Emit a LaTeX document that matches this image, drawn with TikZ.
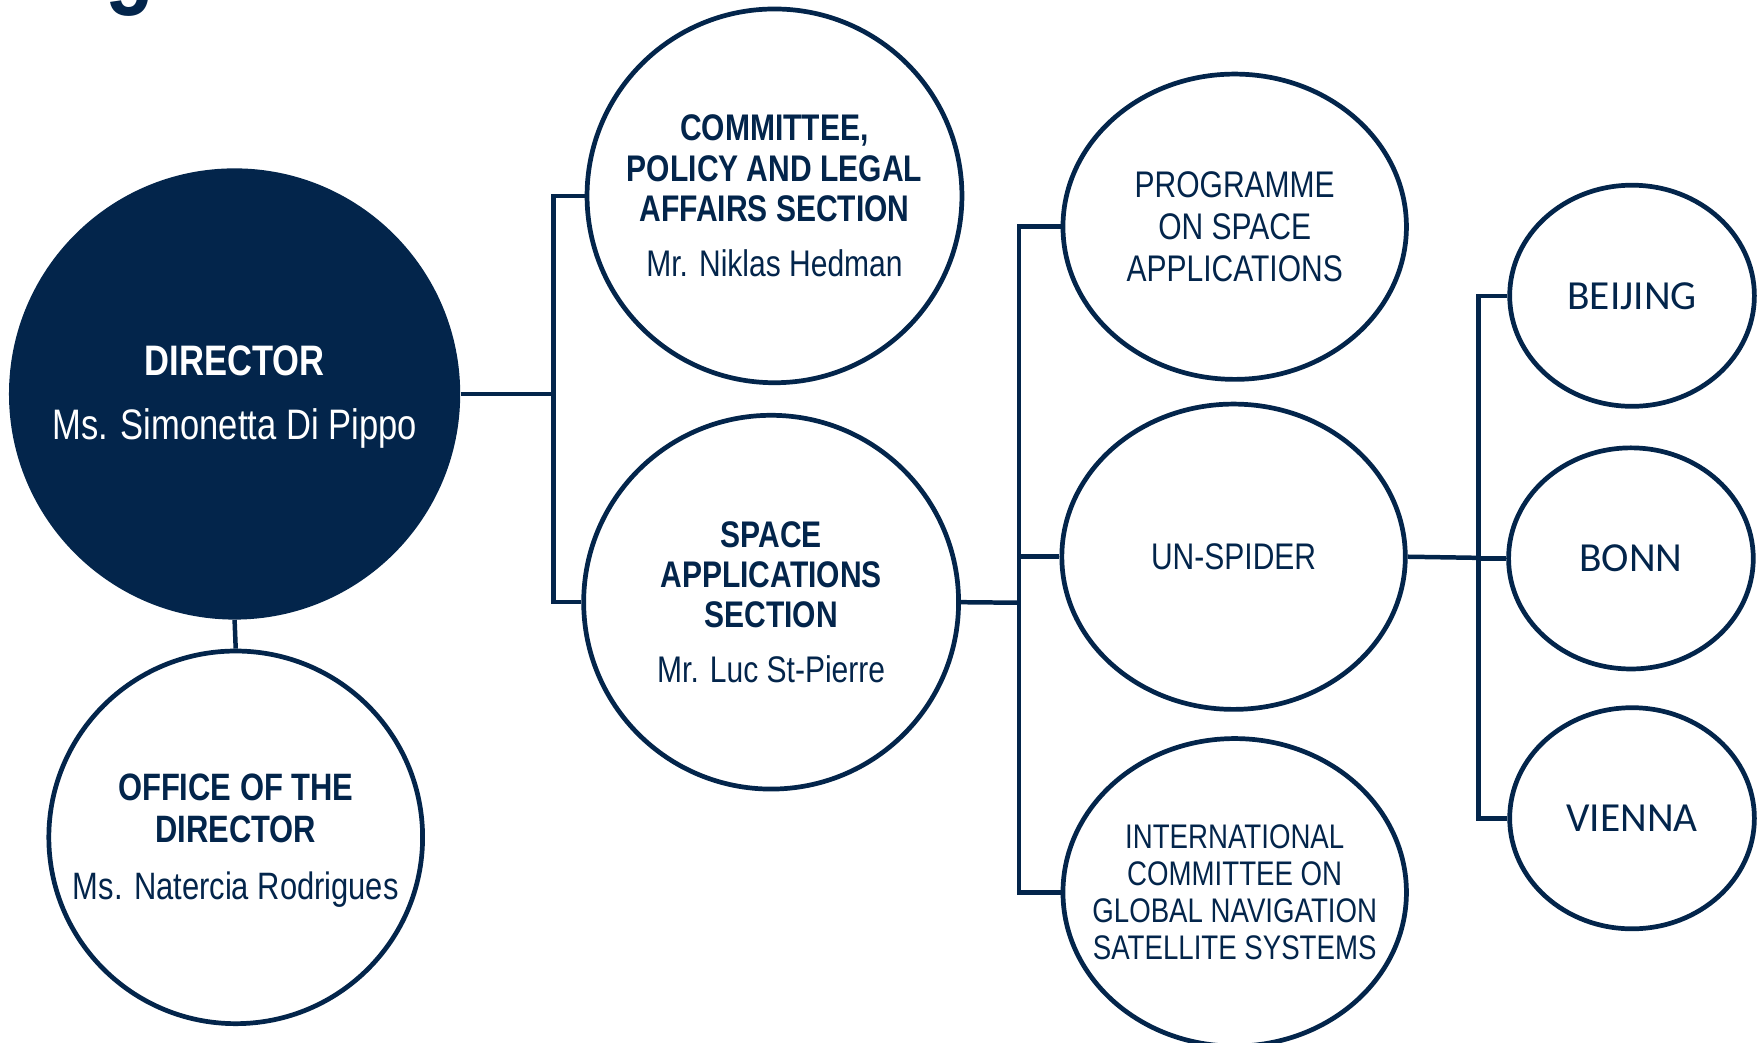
\documentclass[tikz,border=0pt]{standalone}
\usepackage{fontspec}
\setmainfont{Liberation Sans}[FakeStretch=0.81]
\newfontfamily\cityfont{Carlito}
\usetikzlibrary{shapes.geometric}
\definecolor{navy}{RGB}{3,37,75}
\begin{document}
\begin{tikzpicture}[x=0.5pt,y=-0.5pt,
  org/.style={ellipse, draw=navy, line width=2.1pt, inner sep=0pt, fill=white},
  bigorg/.style={org, minimum width=167pt, minimum height=166.5pt},
  midorg/.style={org, minimum width=153pt, minimum height=136pt},
  cityorg/.style={org, minimum width=109pt, minimum height=98.5pt},
  conn/.style={draw=navy, line width=2pt, line join=miter},
  txt/.style={align=center, text=navy, inner sep=0pt},
  citytxt/.style={txt, font=\cityfont\fontsize{18.4}{20}\selectfont}]
\useasboundingbox (0,0) rectangle (1568,929);
\clip (0,0) rectangle (1568,929);

% partial title glyph at the top edge
\node[anchor=base, text=navy, inner sep=0pt, font=\bfseries\fontsize{44}{44}\selectfont] (title) at (116,-4) {g};

% junctions
\coordinate (j1) at (493,351);
\coordinate (j2) at (908,537);
\coordinate (j3) at (1317,497);

% nodes
\node[ellipse, fill=navy, inner sep=0pt, minimum width=201pt, minimum height=201pt] (dir) at (209,351) {};
\node[org, minimum width=166.5pt, minimum height=166pt] (office) at (210,746) {};
\node[bigorg] (comm) at (690,174.5) {};
\node[bigorg] (space) at (687,536.5) {};
\node[midorg] (prog) at (1100,202) {};
\node[midorg] (spider) at (1099,496) {};
\node[midorg, minimum height=137pt] (icg) at (1100,795) {};
\node[cityorg] (beijing) at (1454,263.5) {};
\node[cityorg] (bonn) at (1453,497.5) {};
\node[cityorg] (vienna) at (1454,729) {};

% connectors
\draw[conn] (dir.south) -- (office.north);
\draw[conn] (dir.east) -- (j1);
\draw[conn] (comm.west) -| (j1);
\draw[conn] (space.west) -| (j1);
\draw[conn] (space.east) -- (j2);
\draw[conn] (prog.west) -| (j2);
\draw[conn] (spider.west) -| (j2);
\draw[conn] (icg.west) -| (j2);
\draw[conn] (spider.east) -- (j3);
\draw[conn] (beijing.west) -| (j3);
\draw[conn] (bonn.west) -| (j3);
\draw[conn] (vienna.west) -| (j3);

% texts
\node[txt, text=white, font=\fontsize{19}{28.5}\selectfont] (dirt) at ([yshift=-1.5pt]dir.center)
  {\bfseries DIRECTOR\\ Ms. Simonetta Di Pippo};
\node[txt, font=\fontsize{17}{18.5}\selectfont] (officet) at ([yshift=-1.5pt]office.center)
  {\bfseries OFFICE OF THE\\ \bfseries DIRECTOR\\[7pt] Ms. Natercia Rodrigues};
\node[txt, font=\fontsize{16.5}{18}\selectfont] (commt) at (comm.center)
  {\bfseries COMMITTEE,\\ \bfseries POLICY AND LEGAL\\ \bfseries AFFAIRS SECTION\\[6.5pt] Mr. Niklas Hedman};
\node[txt, font=\fontsize{16.5}{18}\selectfont] (spacet) at (space.center)
  {\bfseries SPACE\\ \bfseries APPLICATIONS\\ \bfseries SECTION\\[6.5pt] Mr. Luc St-Pierre};
\node[txt, font=\fontsize{16.5}{18.5}\selectfont] (progt) at (prog.center)
  {PROGRAMME\\ ON SPACE\\ APPLICATIONS};
\node[txt, font=\fontsize{16.5}{18.5}\selectfont] (spidert) at (spider.center) {UN-SPIDER};
\node[txt, font=\fontsize{15.2}{16.5}\selectfont] (icgt) at (icg.center)
  {INTERNATIONAL\\ COMMITTEE ON\\ GLOBAL NAVIGATION\\ SATELLITE SYSTEMS};
\node[citytxt] (beijingt) at (beijing.center) {BEIJING};
\node[citytxt] (bonnt) at (bonn.center) {BONN};
\node[citytxt] (viennat) at (vienna.center) {VIENNA};
\end{tikzpicture}
\end{document}
